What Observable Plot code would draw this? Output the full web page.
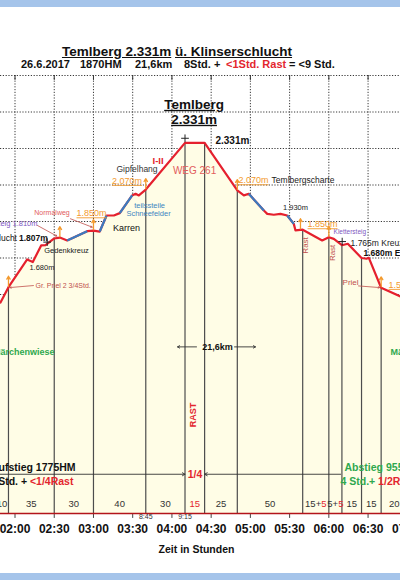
<!DOCTYPE html>
<html><head><meta charset="utf-8">
<script src="https://cdn.jsdelivr.net/npm/d3@7"></script>
<script src="https://cdn.jsdelivr.net/npm/@observablehq/plot@0.6"></script>
<style>
html,body{margin:0;padding:0;width:400px;height:580px;overflow:hidden;background:#fff;font-family:'Liberation Sans',Arial,sans-serif;}
#bandTop{position:absolute;left:0;top:0;width:400px;height:7px;background:#A5C4EA;}
#bandBottom{position:absolute;left:0;top:573px;width:400px;height:7px;background:#A5C4EA;}
#title{position:absolute;left:0;top:45px;width:354px;text-align:center;font-weight:bold;font-size:13.5px;line-height:1;white-space:nowrap;color:#111;}
#title span{text-decoration:underline;}
.sub{position:absolute;top:59px;font-weight:bold;font-size:11px;line-height:1;white-space:nowrap;color:#111;}
#chart{position:absolute;left:0;top:70px;}
</style></head>
<body>
<div id="bandTop"></div>
<div id="title"></div>
<div id="subtitle"></div>
<div id="chart"></div>
<div id="bandBottom"></div>
<script>
// ---------- data ----------
const titleParts = ["Temlberg 2.331m", "ü. Klinserschlucht"];
const subtitleParts = ["26.6.2017", "1870HM", "21,6km", "8Std. +", "<1Std. Rast", "= <9 Std."];

// elevation profile: elapsed minutes, elevation (m), surface of the following leg
const profileTime = [108.9,115,129.3,133.6,140,143.3,150,154.3,159.9,175.2,180,184.8,190,195.6,200.1,209.6,212.2,214.7,220,250,265,290,295,298.8,310.3,312.9,317.9,323,328.2,333.2,334.5,340,354.9,360,363.8,370,374.5,385,388.8,390.6,400,414.8];
const profileElev = [1456,1540,1692,1678,1769,1771,1807,1812,1796,1847,1850,1845,1933,1933,1946,2043,2052,2043,2075,2331,2331,2070,2043,2052,1960,1942,1937,1942,1933,1887,1851,1855,1796,1814,1805,1770,1778,1700,1696,1701,1537,1489];
const profileSurface = ["","","","","","","","","snow","","","snow","","","snow","","","","","","","","","snow","","","","","snow","","","","","","","","","","","","",""];

// waypoints (elapsed minutes) and leg durations
const stationTime = [105,115,150,180,220,250,265,290,340,360,370,385,400,420];
const stationElev = [null,1540,1807,1850,2075,2331,2331,2070,1855,1814,1770,1700,1537,null];
const legWalk = ["10","35","30","40","30","","25","50","15","5","15","15","20"];
const legRest = ["","","","","","15","","","5","5","","",""];
const clockTime = [220,250];
const clockLabel = ["8:45","9:15"];

const tickTime = [120,150,180,210,240,270,300,330,360,390,420];
const gridElev = [2700,2500,2300,2100,1900,1700,1500,1300,1100,900,700,500];

const markerTime = [115,154.3,180,220,290,338.3,360,400];
const markerElev = [1540,1812,1850,2075,2070,1855,1814,1537];
const crossTime = [144.6,250,370.2];
const crossElev = [1787,2356,1790];

// annotations (time, elevation, text)
const peakTitle = [{t:256.9,e:2541,text:"Temlberg"},{t:256.9,e:2459,text:"2.331m"}];
const summitHeight = [{t:273.3,e:2341,text:"2.331m"}];
const routeLabel = [{t:257.3,e:2180,text:"WEG 261"}];
const gradeLabel = [{t:229.4,e:2234,text:"I-II"}];
const heightsOrangeMid = [{t:205.6,e:2122,text:"2.070m"},{t:178.5,e:1944,text:"1.850m"}];
const heightsOrangeStart = [{t:290.9,e:2125,text:"2.070m"},{t:343.7,e:1884,text:"1.850m"},{t:405.6,e:1552,text:"1.510m"}];
const placesStart = [{t:316.2,e:2125,text:"Temlbergscharte"},{t:376.6,e:1780,text:"1.765m Kreuzung"}];
const placesSmall = [{t:140.6,e:1648,text:"1.680m"},{t:159.4,e:1741,text:"Gedenkkreuz"},{t:334.5,e:1974,text:"1.930m"}];
const placesMid = [{t:213.3,e:2185,text:"Gipfelhang"}];
const terrainLabel = [{t:205.3,e:1862,text:"Karren"}];
const boldStart = [{t:386.5,e:1725,text:"1.680m Einstieg"},{t:123.0,e:1810,text:"1.807m"}];
const plainEnd = [{t:121.5,e:1810,text:"Klinserschlucht"}];
const climbEnd = [{t:137.2,e:1886,text:"Klettersteig 1.810m"}];
const climbStart = [{t:363.6,e:1842,text:"Klettersteig"}];
const normalLabel = [{t:148.3,e:1947,text:"Normalweg"}];
const prielStart = [{t:135.7,e:1549,text:"Gr. Priel 2 3/4Std."}];
const prielMid = [{t:376.6,e:1566,text:"Priel"}];
const restLabels = [{t:342.2,e:1769,text:"Rast"},{t:362.4,e:1728,text:"Rast"}];
const snowLabels = [{t:222.9,e:1985,text:"teilssteile"},{t:222.1,e:1941,text:"Schneefelder"}];
const meadowEnd = [{t:150.2,e:1182,text:"Märchenwiese"}];
const meadowStart = [{t:407.2,e:1182,text:"Märchenwiese"}];
const summitRest = [{t:256.5,e:840,text:"RAST"}];
const distanceLabel = [{t:274.9,e:1213,text:"21,6km"}];
const ascentHead = [{t:166.3,e:550,text:"Aufstieg 1775HM"}];
const ascentTime = [{t:164.7,e:476,main:"4 Std. + ",rest:"<1/4Rast"}];
const descentHead = [{t:372.0,e:550,text:"Abstieg 955HM"}];
const descentTime = [{t:368.9,e:476,main:"4 Std.+ ",rest:"1/2Rast"}];
const summitRestFrac = [{t:257.6,e:515,text:"1/4"}];
const leaderLines = [{t1:134.1,e1:1549,t2:116,e2:1538},{t1:382.7,e1:1547,t2:398.8,e2:1538},{t1:137.2,e1:1878,t2:152,e2:1820},{t1:162.4,e1:1915,t2:179,e2:1869}];
const spanArrows = [{t1:0,t2:250,e:515},{t1:369,t2:265,e:515}];
const distanceArrows = [{t1:258.8,t2:244.3,e:1213},{t1:287.9,t2:303.9,e:1213}];
const axisLabel = ["Zeit in Stunden"];

// ---------- header ----------
document.getElementById("title").innerHTML = `<span>${titleParts[0]}</span> <span>${titleParts[1]}</span>`;
const subLeft = [21,80,135,184,226,289];
const sub = document.getElementById("subtitle");
subtitleParts.forEach((s,i)=>{
  const el = document.createElement("div");
  el.className = "sub"; el.style.left = subLeft[i]+"px";
  if (i===4) el.style.color = "#E3262E";
  el.textContent = s; sub.appendChild(el);
});

// ---------- chart ----------
const RED="#E5202E", BLUE="#3A7CC0", CREAM="#FFFDE6", ORANGE="#F39A2E", PURPLE="#7E57C2",
      BROWN="#C0504D", SALMON="#E25C5C", GREEN="#2FA84F", SNOWTXT="#3E86C1", ACCENT="#E3262E";

const profile = profileTime.map((t,i)=>({t, e:profileElev[i], s:profileSurface[i]}));
const snowLegs = profile.slice(1).map((d,i)=>({t1:profile[i].t,e1:profile[i].e,t2:d.t,e2:d.e,s:profile[i].s})).filter(d=>d.s==="snow");
const stations = stationTime.map((t,i)=>({t, e:stationElev[i]})).filter(d=>d.e!=null);
const legs = legWalk.map((w,i)=>({t:(stationTime[i]+stationTime[i+1])/2, walk:w, rest:legRest[i]}));
const legText = d => d.walk && d.rest ? d.walk+"+"+d.rest : (d.walk || d.rest);
const markers = markerTime.map((t,i)=>({t, e:markerElev[i]}));
const crosses = crossTime.map((t,i)=>({t, e:crossElev[i]}));
const clocks = clockTime.map((t,i)=>({t, text:clockLabel[i]}));
const fmt = m => String(Math.floor(m/60)).padStart(2,"0")+":"+String(m%60).padStart(2,"0");

const T = (data, o) => Plot.text(data, {x:"t", y:"e", text:"text", ...o});

const plot = Plot.plot({
  width: 400, height: 503,
  marginTop: 5, marginBottom: 60, marginLeft: 0, marginRight: 0,
  x: {domain: [108.9, 414.8], axis: null},
  y: {domain: [300, 2700], axis: null},
  style: {fontFamily: "'Liberation Sans', Arial, sans-serif", background: "transparent", color: "#111"},
  marks: [
    Plot.ruleY(gridElev, {stroke:"#222", strokeDasharray:"1.2,1.6", strokeWidth:0.9}),
    Plot.ruleX(tickTime, {stroke:"#222", strokeDasharray:"1.2,1.6", strokeWidth:0.9}),
    Plot.ruleX(tickTime, {y1:2700, y2:2673, stroke:"#333", strokeWidth:1}),
    Plot.areaY(profile, {x:"t", y1:300, y2:"e", fill:CREAM}),
    Plot.ruleX(stations, {x:"t", y1:300, y2:"e", stroke:"#4d4d4d", strokeWidth:1.2}),
    Plot.ruleX(tickTime, {y1:300, y2:273, stroke:"#444", strokeWidth:1}),
    Plot.ruleY([300], {stroke:"#B3141B", strokeWidth:1.6}),
    Plot.line(profile, {x:"t", y:"e", stroke:RED, strokeWidth:2.2, strokeLinejoin:"round"}),
    Plot.link(snowLegs, {x1:"t1", y1:"e1", x2:"t2", y2:"e2", stroke:BLUE, strokeWidth:2.2}),
    Plot.arrow(markers, {x1:"t", x2:"t", y1:d=>d.e+5, y2:d=>d.e+60, stroke:ORANGE, strokeWidth:1.3, headLength:4}),
    Plot.dot(crosses, {x:"t", y:"e", symbol:"plus", r:2.6, stroke:"#222", strokeWidth:1}),
    Plot.arrow(leaderLines, {x1:"t1", y1:"e1", x2:"t2", y2:"e2", stroke:BROWN, strokeWidth:0.8, headLength:3}),
    Plot.arrow(spanArrows, {x1:"t1", x2:"t2", y1:"e", y2:"e", stroke:"#333", strokeWidth:0.9, headLength:5}),
    Plot.arrow(distanceArrows, {x1:"t1", x2:"t2", y1:"e", y2:"e", stroke:"#333", strokeWidth:0.9, headLength:4}),

    T(peakTitle, {fontSize:13.5, fontWeight:"bold", fill:"#111", ariaDescription:"underline"}),
    T(summitHeight, {fontSize:10, fontWeight:"bold", textAnchor:"start", fill:"#111"}),
    T(routeLabel, {fontSize:10, fill:SALMON}),
    T(gradeLabel, {fontSize:9.5, fontWeight:"bold", fill:ACCENT}),
    T(heightsOrangeMid, {fontSize:9, fill:ORANGE, ariaDescription:"underline"}),
    T(heightsOrangeStart, {fontSize:9, fill:ORANGE, textAnchor:"start", ariaDescription:"underline"}),
    T(placesStart, {fontSize:8.5, fill:"#222", textAnchor:"start"}),
    T(placesSmall, {fontSize:7.5, fill:"#222"}),
    T(placesMid, {fontSize:8.5, fill:"#333"}),
    T(terrainLabel, {fontSize:9, fill:"#111"}),
    T(boldStart, {fontSize:8.5, fontWeight:"bold", fill:"#111", textAnchor:"start"}),
    T(plainEnd, {fontSize:8.5, fill:"#111", textAnchor:"end"}),
    T(climbEnd, {fontSize:7.5, fill:PURPLE, textAnchor:"end"}),
    T(climbStart, {fontSize:6.5, fill:PURPLE, textAnchor:"start"}),
    T(normalLabel, {fontSize:7, fill:SALMON}),
    T(prielStart, {fontSize:7, fill:BROWN, textAnchor:"start"}),
    T(prielMid, {fontSize:8, fill:BROWN}),
    T(restLabels, {fontSize:8, fill:BROWN, rotate:-90}),
    T(snowLabels, {fontSize:7.5, fill:SNOWTXT}),
    T(meadowEnd, {fontSize:9, fontWeight:"bold", fill:GREEN, textAnchor:"end"}),
    T(meadowStart, {fontSize:9, fontWeight:"bold", fill:GREEN, textAnchor:"start"}),
    T(summitRest, {fontSize:9, fontWeight:"bold", fill:ACCENT, rotate:-90}),
    T(distanceLabel, {fontSize:9, fontWeight:"bold", fill:"#111"}),
    T(ascentHead, {fontSize:10.5, fontWeight:"bold", fill:"#111", textAnchor:"end"}),
    Plot.text(ascentTime, {x:"t", y:"e", text:d=>d.main+d.rest, fontSize:10.5, fontWeight:"bold", fill:"#111", textAnchor:"end", ariaDescription:"rich-ascent"}),
    T(descentHead, {fontSize:10.5, fontWeight:"bold", fill:GREEN, textAnchor:"start"}),
    Plot.text(descentTime, {x:"t", y:"e", text:d=>d.main+d.rest, fontSize:10.5, fontWeight:"bold", fill:GREEN, textAnchor:"start", ariaDescription:"rich-descent"}),
    T(summitRestFrac, {fontSize:10.5, fontWeight:"bold", fill:ACCENT}),
    Plot.text(legs, {x:"t", y:350, text:legText, fontSize:9.5, fill:d=>d.walk?"#333":ACCENT, ariaDescription:"rich-legs"}),
    Plot.text(clocks, {x:"t", y:281, text:"text", fontSize:7, fill:"#333"}),
    Plot.text(tickTime, {x:d=>d, frameAnchor:"bottom", dy:19.5, text:fmt, fontSize:12, fontWeight:"bold", fill:"#111"}),
    Plot.text(axisLabel, {frameAnchor:"bottom", dy:39, dx:-4, fontSize:10.5, fontWeight:"bold", fill:"#111"})
  ]
});
document.getElementById("chart").appendChild(plot);

// ---------- post-styling ----------
const svg = d3.select(plot);
svg.selectAll('g[aria-description="underline"] text').style("text-decoration","underline");
function splitColor(sel, parts, color) {
  sel.each(function(_, i) {
    const [a, b] = parts[i];
    if (!a || !b) return;
    const t = d3.select(this);
    t.text(null);
    t.append("tspan").text(a);
    t.append("tspan").attr("fill", color).text(b);
  });
}
splitColor(svg.selectAll('g[aria-description="rich-ascent"] text'), ascentTime.map(d=>[d.main,d.rest]), ACCENT);
splitColor(svg.selectAll('g[aria-description="rich-descent"] text'), descentTime.map(d=>[d.main,d.rest]), ACCENT);
splitColor(svg.selectAll('g[aria-description="rich-legs"] text'), legs.map(d=>[d.walk && d.rest ? d.walk+"+" : "", d.rest]), ACCENT);
</script>
</body></html>
